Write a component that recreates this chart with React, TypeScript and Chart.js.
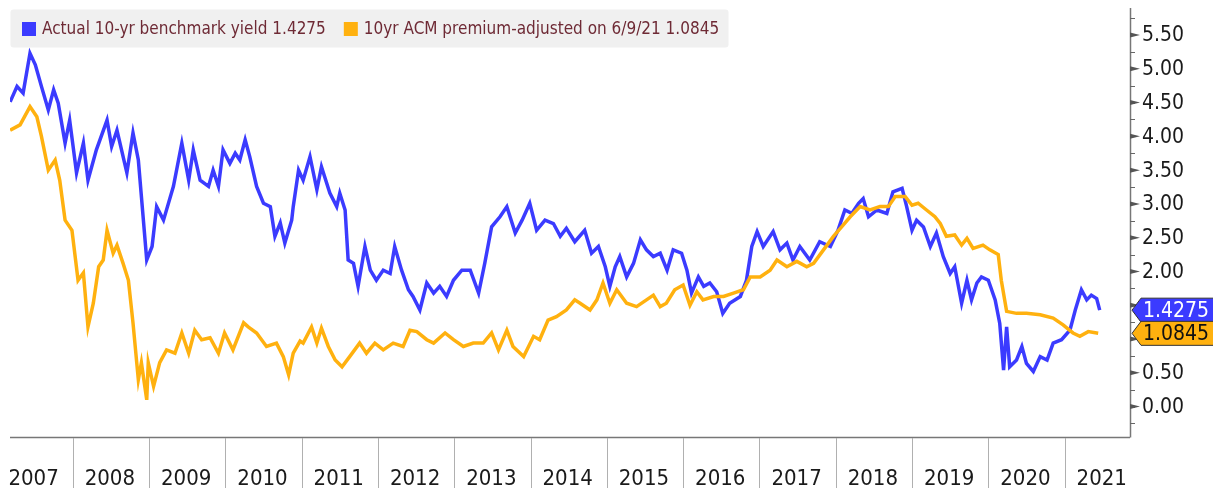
import React, { useEffect, useRef } from "react";
import { Chart, registerables } from "chart.js";

Chart.register(...registerables);

// ---- DATA (decimal years, yield %) ----
const blueX = [
  2007.18, 2007.27, 2007.35, 2007.44, 2007.51, 2007.59, 2007.68, 2007.75, 2007.81, 2007.9, 2007.96,
  2008.05, 2008.14, 2008.2, 2008.31, 2008.45, 2008.51, 2008.58, 2008.71, 2008.79, 2008.86, 2008.97,
  2009.04, 2009.1, 2009.19, 2009.32, 2009.43, 2009.52, 2009.58, 2009.67, 2009.78, 2009.84, 2009.91, 2009.97,
  2010.06, 2010.13, 2010.19, 2010.26, 2010.32, 2010.41, 2010.5, 2010.59, 2010.65, 2010.72, 2010.78, 2010.87, 2010.89, 2010.96,
  2011.02, 2011.11, 2011.2, 2011.26, 2011.37, 2011.46, 2011.5, 2011.57, 2011.61, 2011.68, 2011.74, 2011.83, 2011.9, 2011.98,
  2012.07, 2012.16, 2012.22, 2012.31, 2012.4, 2012.46, 2012.55, 2012.64, 2012.73, 2012.81, 2012.9, 2012.99,
  2013.1, 2013.21, 2013.32, 2013.4, 2013.49, 2013.6, 2013.69, 2013.8, 2013.89, 2013.99,
  2014.08, 2014.19, 2014.3, 2014.39, 2014.47, 2014.58, 2014.71, 2014.8, 2014.89, 2014.98,
  2015.04, 2015.11, 2015.17, 2015.26, 2015.35, 2015.44, 2015.52, 2015.61, 2015.7, 2015.79, 2015.87, 2015.98,
  2016.05, 2016.11, 2016.2, 2016.27, 2016.35, 2016.44, 2016.52, 2016.61, 2016.75, 2016.83, 2016.9, 2016.97,
  2017.05, 2017.18, 2017.27, 2017.36, 2017.44, 2017.53, 2017.66, 2017.79, 2017.93,
  2018.03, 2018.12, 2018.21, 2018.3, 2018.36, 2018.43, 2018.54, 2018.67, 2018.75, 2018.87, 2018.93,
  2019.0, 2019.06, 2019.15, 2019.24, 2019.32, 2019.41, 2019.5, 2019.56, 2019.65, 2019.72, 2019.78, 2019.85, 2019.91,
  2020.0, 2020.09, 2020.15, 2020.2, 2020.24, 2020.28, 2020.37, 2020.44, 2020.5, 2020.59, 2020.68, 2020.77, 2020.85, 2020.96,
  2021.07, 2021.14, 2021.22, 2021.29, 2021.35, 2021.42, 2021.46,
];
const blueY = [
  4.51, 4.74, 4.64, 5.23, 5.06, 4.74, 4.39, 4.69, 4.49, 3.9, 4.24,
  3.46, 3.9, 3.35, 3.8, 4.24, 3.85, 4.09, 3.46, 4.05, 3.65, 2.17,
  2.37, 2.96, 2.76, 3.26, 3.9, 3.35, 3.8, 3.35, 3.26, 3.5, 3.26, 3.8,
  3.6, 3.75, 3.65, 3.95, 3.7, 3.26, 3.01, 2.96, 2.52, 2.72, 2.42, 2.76, 2.96, 3.5,
  3.35, 3.7, 3.21, 3.55, 3.16, 2.96, 3.16, 2.91, 2.17, 2.12, 1.78, 2.37, 2.02, 1.87,
  2.02, 1.97, 2.37, 2.02, 1.73, 1.63, 1.43, 1.83, 1.68, 1.78, 1.63, 1.87,
  2.02, 2.02, 1.68, 2.12, 2.66, 2.81, 2.96, 2.57, 2.76, 3.01,
  2.61, 2.76, 2.71, 2.52, 2.64, 2.44, 2.61, 2.27, 2.37, 2.07,
  1.78, 2.07, 2.22, 1.92, 2.12, 2.47, 2.32, 2.22, 2.27, 2.02, 2.32, 2.27,
  2.02, 1.68, 1.92, 1.78, 1.83, 1.7, 1.38, 1.53, 1.63, 1.87, 2.37, 2.59,
  2.37, 2.59, 2.32, 2.42, 2.17, 2.37, 2.17, 2.44, 2.37,
  2.61, 2.91, 2.86, 3.01, 3.08, 2.81, 2.91, 2.86, 3.18, 3.23, 2.96,
  2.61, 2.76, 2.66, 2.37, 2.57, 2.22, 1.97, 2.07, 1.53, 1.87, 1.58, 1.83, 1.92,
  1.87, 1.58, 1.23, 0.54, 1.18, 0.59, 0.69, 0.89, 0.64, 0.52, 0.74, 0.69, 0.94, 0.99,
  1.13, 1.43, 1.73, 1.58, 1.65, 1.6, 1.4275,
];
const orangeX = [
  2007.18, 2007.31, 2007.44, 2007.53, 2007.59, 2007.68, 2007.77, 2007.83, 2007.9, 2007.99,
  2008.07, 2008.14, 2008.2, 2008.27, 2008.34, 2008.4, 2008.45, 2008.53, 2008.58, 2008.66, 2008.73, 2008.79, 2008.86, 2008.9, 2008.97, 2008.99,
  2009.06, 2009.14, 2009.23, 2009.34, 2009.43, 2009.52, 2009.6, 2009.69, 2009.8, 2009.91, 2009.99,
  2010.1, 2010.24, 2010.3, 2010.41, 2010.54, 2010.67, 2010.76, 2010.83, 2010.89, 2010.98,
  2011.02, 2011.13, 2011.2, 2011.26, 2011.35, 2011.44, 2011.53, 2011.63, 2011.76, 2011.85, 2011.96,
  2012.07, 2012.2, 2012.33, 2012.42, 2012.51, 2012.64, 2012.73, 2012.88, 2012.99,
  2013.12, 2013.25, 2013.38, 2013.49, 2013.58, 2013.69, 2013.77, 2013.91,
  2014.04, 2014.12, 2014.23, 2014.34, 2014.47, 2014.58, 2014.65, 2014.78, 2014.87, 2014.95,
  2015.04, 2015.13, 2015.26, 2015.39, 2015.52, 2015.61, 2015.7, 2015.78, 2015.89,
  2016.0, 2016.09, 2016.18, 2016.26, 2016.4, 2016.53, 2016.66, 2016.79, 2016.88,
  2017.01, 2017.14, 2017.23, 2017.36, 2017.49, 2017.62, 2017.71, 2017.84, 2017.97,
  2018.1, 2018.19, 2018.32, 2018.45, 2018.58, 2018.69, 2018.78, 2018.91,
  2019.0, 2019.08, 2019.19, 2019.3, 2019.37, 2019.45, 2019.56, 2019.65, 2019.72, 2019.8, 2019.93,
  2020.02, 2020.13, 2020.17, 2020.24, 2020.37, 2020.5, 2020.68, 2020.85, 2020.98,
  2021.11, 2021.2, 2021.31, 2021.44,
];
const orangeY = [
  4.09, 4.17, 4.44, 4.29, 4.0, 3.5, 3.65, 3.35, 2.76, 2.61,
  1.87, 1.98, 1.18, 1.53, 2.07, 2.17, 2.61, 2.27, 2.39, 2.12, 1.87, 1.24, 0.4, 0.65, 0.1, 0.65,
  0.3, 0.65, 0.84, 0.79, 1.09, 0.79, 1.13, 0.99, 1.02, 0.79, 1.09,
  0.84, 1.24, 1.18, 1.09, 0.89, 0.94, 0.74, 0.47, 0.79, 0.97,
  0.94, 1.18, 0.94, 1.16, 0.89, 0.69, 0.59, 0.74, 0.94, 0.79, 0.94,
  0.84, 0.94, 0.89, 1.13, 1.11, 0.99, 0.94, 1.09, 0.99,
  0.89, 0.94, 0.94, 1.09, 0.84, 1.13, 0.89, 0.74,
  1.04, 0.99, 1.28, 1.33, 1.43, 1.58, 1.53, 1.43, 1.58, 1.83,
  1.53, 1.73, 1.53, 1.48, 1.58, 1.65, 1.48, 1.53, 1.73,
  1.8, 1.5, 1.7, 1.58, 1.63, 1.63, 1.68, 1.73, 1.92,
  1.92, 2.02, 2.17, 2.07, 2.15, 2.07, 2.12, 2.32, 2.52,
  2.69, 2.81, 2.96, 2.91, 2.96, 2.96, 3.11, 3.11,
  2.98, 3.01, 2.91, 2.81, 2.71, 2.52, 2.54, 2.39, 2.49, 2.34, 2.39,
  2.32, 2.25, 1.87, 1.41, 1.38, 1.38, 1.36, 1.31, 1.21,
  1.09, 1.04, 1.11, 1.0845,
];

const yearLabels = [
  "2007", "2008", "2009", "2010", "2011", "2012", "2013", "2014",
  "2015", "2016", "2017", "2018", "2019", "2020", "2021",
];
const yTickLabels = ["0.00", "0.50", "2.00", "2.50", "3.00", "3.50", "4.00", "4.50", "5.00", "5.50"];
const seriesNames = [
  "Actual 10-yr benchmark yield 1.4275",
  "10yr ACM premium-adjusted on 6/9/21 1.0845",
];
const lastValues = [1.4275, 1.0845];
const lastLabels = ["1.4275", "1.0845"];

const X_MIN = 2007.178;
const X_MAX = 2021.857;
const Y_MIN = -0.45;
const Y_MAX = 5.9;

const BLUE = "#3b3bff";
const ORANGE = "#ffb10f";
const FONT = '"DejaVu Sans Condensed", "DejaVu Sans", sans-serif';

const decorPlugin = {
  id: "decor",
  afterDraw(chart: any) {
    const { ctx, chartArea } = chart;
    const xs = chart.scales.x;
    const ys = chart.scales.y;
    const { left, right, top, bottom } = chartArea;
    ctx.save();

    // axes lines
    ctx.strokeStyle = "#777";
    ctx.lineWidth = 1.5;
    ctx.beginPath();
    ctx.moveTo(left, bottom + 0.5);
    ctx.lineTo(right, bottom + 0.5);
    ctx.moveTo(right + 0.5, top);
    ctx.lineTo(right + 0.5, bottom + 0.5);
    ctx.stroke();

    // minor ticks every 0.25
    ctx.lineWidth = 1;
    ctx.strokeStyle = "#666";
    for (let v = -0.25; v <= 5.8; v += 0.25) {
      const y = Math.round(ys.getPixelForValue(v)) + 0.5;
      ctx.beginPath();
      ctx.moveTo(right, y);
      ctx.lineTo(right + 5, y);
      ctx.stroke();
    }
    // major arrow ticks every 0.5
    ctx.fillStyle = "#555";
    for (let v = 0; v <= 5.5; v += 0.5) {
      const y = ys.getPixelForValue(v);
      ctx.beginPath();
      ctx.moveTo(right, y - 2.5);
      ctx.lineTo(right + 10, y);
      ctx.lineTo(right, y + 2.5);
      ctx.closePath();
      ctx.fill();
    }
    // tick labels
    ctx.fillStyle = "#1a1a1a";
    ctx.font = `21px ${FONT}`;
    ctx.textAlign = "left";
    ctx.textBaseline = "middle";
    yTickLabels.forEach((t) => {
      const y = ys.getPixelForValue(parseFloat(t));
      ctx.fillText(t, right + 12, y + 1);
    });

    // year separators and labels
    ctx.strokeStyle = "#b0b0b0";
    ctx.lineWidth = 1;
    yearLabels.forEach((lab) => {
      const yr = parseInt(lab, 10);
      const xb = xs.getPixelForValue(yr);
      if (xb > left && xb < right) {
        ctx.beginPath();
        ctx.moveTo(Math.round(xb) + 0.5, bottom + 1);
        ctx.lineTo(Math.round(xb) + 0.5, 488);
        ctx.stroke();
      }
      const xm = xs.getPixelForValue(yr + 0.5) - 1;
      ctx.fillStyle = "#1a1a1a";
      ctx.font = `22px ${FONT}`;
      ctx.textAlign = "center";
      ctx.textBaseline = "alphabetic";
      ctx.fillText(lab, xm, 485);
    });

    // legend box
    ctx.fillStyle = "#f0f0f0";
    ctx.beginPath();
    if (ctx.roundRect) ctx.roundRect(10.5, 9.5, 718, 38, 3);
    else ctx.rect(10.5, 9.5, 718, 38);
    ctx.fill();
    ctx.font = `17px ${FONT}`;
    ctx.textAlign = "left";
    ctx.textBaseline = "middle";
    let lx = 22;
    const colors = [BLUE, ORANGE];
    seriesNames.forEach((n, i) => {
      ctx.fillStyle = colors[i];
      ctx.fillRect(lx, 22, 14, 14);
      ctx.fillStyle = "#6e2a35";
      ctx.fillText(n, lx + 20, 30);
      lx = lx + 20 + ctx.measureText(n).width + 18;
    });

    // last value tags
    const tagColors = [BLUE, ORANGE];
    const tagText = ["#ffffff", "#111111"];
    lastValues.forEach((v, i) => {
      const y = ys.getPixelForValue(v);
      const h = 12;
      const x0 = right + 2;
      ctx.beginPath();
      ctx.moveTo(x0, y);
      ctx.lineTo(x0 + 9, y - h);
      ctx.lineTo(1216, y - h);
      ctx.lineTo(1216, y + h);
      ctx.lineTo(x0 + 9, y + h);
      ctx.closePath();
      ctx.fillStyle = tagColors[i];
      ctx.fill();
      ctx.strokeStyle = "#333";
      ctx.lineWidth = 1;
      ctx.stroke();
      ctx.fillStyle = tagText[i];
      ctx.font = `21px ${FONT}`;
      ctx.textAlign = "left";
      ctx.textBaseline = "middle";
      ctx.fillText(lastLabels[i], x0 + 11, y + 1);
    });

    ctx.restore();
  },
};

export default function App() {
  const ref = useRef<HTMLCanvasElement | null>(null);
  useEffect(() => {
    document.body.style.margin = "0";
    if (!ref.current) return;
    const chart = new Chart(ref.current, {
      type: "line",
      data: {
        datasets: [
          {
            label: seriesNames[0],
            data: blueX.map((x, i) => ({ x, y: blueY[i] })),
            borderColor: BLUE,
            borderWidth: 3.5,
            pointRadius: 0,
            tension: 0,
            order: 1,
          },
          {
            label: seriesNames[1],
            data: orangeX.map((x, i) => ({ x, y: orangeY[i] })),
            borderColor: ORANGE,
            borderWidth: 3.5,
            pointRadius: 0,
            tension: 0,
            order: 0,
          },
        ],
      },
      options: {
        responsive: false,
        animation: false,
        devicePixelRatio: 1,
        layout: { padding: { left: 10, right: 83, top: 8, bottom: 51 } },
        plugins: { legend: { display: false }, tooltip: { enabled: false } },
        scales: {
          x: { type: "linear", min: X_MIN, max: X_MAX, display: false },
          y: { type: "linear", min: Y_MIN, max: Y_MAX, display: false },
        },
      },
      plugins: [decorPlugin],
    });
    return () => chart.destroy();
  }, []);
  return <canvas ref={ref} width={1213} height={488} style={{ display: "block" }} />;
}
